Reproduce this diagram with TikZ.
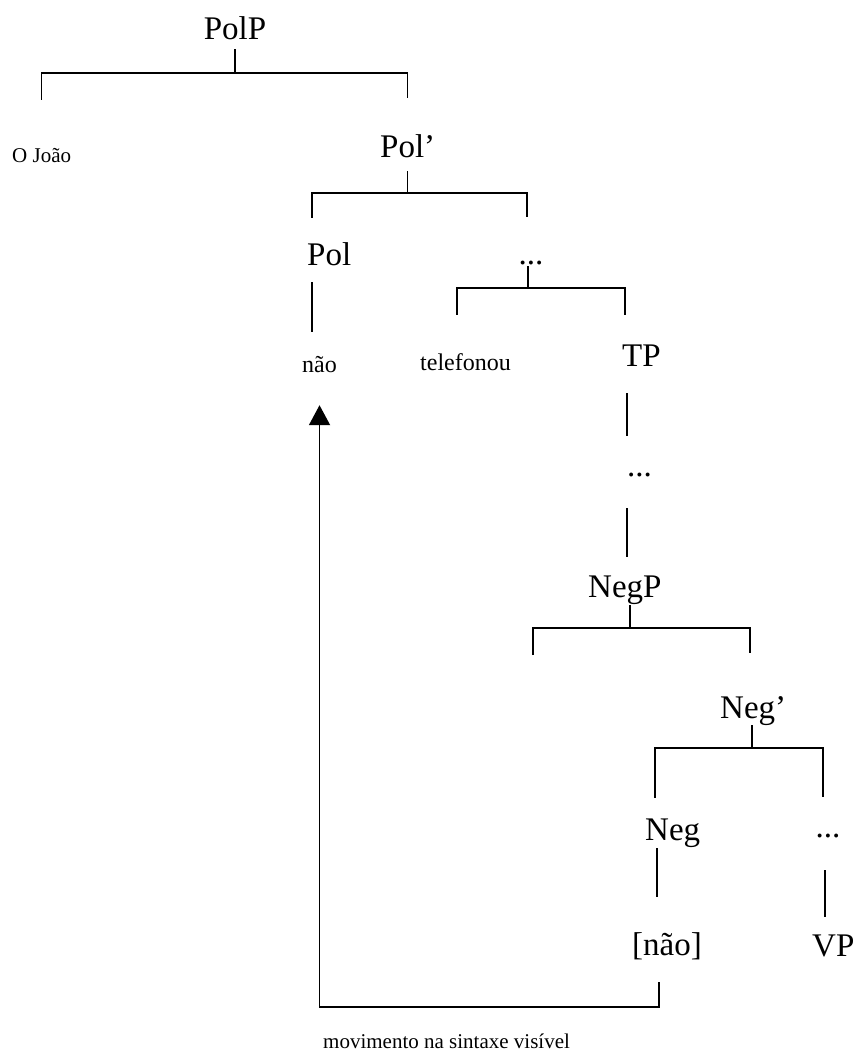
\documentclass[tikz,border=0pt]{standalone}
\usepackage{fontspec}
\setmainfont{Liberation Serif}
\usepackage{tikz}
\usetikzlibrary{arrows.meta,calc}

\begin{document}
\begin{tikzpicture}[
    x=1pt, y=-1pt,
    cat/.style={font=\fontsize{33}{38}\selectfont, inner sep=0pt, text height=23pt, text depth=0pt},
    word/.style={font=\fontsize{21}{24}\selectfont, inner sep=0pt, text height=15pt, text depth=0pt},
    branch/.style={line width=1.5pt},
    move/.style={line width=1.8pt, -{Triangle[length=20pt,width=21pt]}}
]
\useasboundingbox (0,0) rectangle (859,1053);

% Labels
\node[cat, anchor=base] (polp) at (235,39) {PolP};
\node[word, anchor=base west] (joao) at (12,162) {O João};
\node[cat, anchor=base west] (polbar) at (380,157) {Pol’};
\node[cat, anchor=base west] (pol) at (307,265) {Pol};
\node[cat, anchor=base] (dotsa) at (531,264) {...};
\node[word, font=\fontsize{24}{28}\selectfont, anchor=base west] (nao) at (302,372) {não};
\node[word, font=\fontsize{24}{28}\selectfont, anchor=base west] (telefonou) at (420,370) {telefonou};
\node[cat, anchor=base west] (tp) at (622,366) {TP};
\node[cat, anchor=base west] (dotsb) at (627,476) {...};
\node[cat, anchor=base west] (negp) at (588,597) {NegP};
\node[cat, anchor=base west] (negbar) at (720,718) {Neg’};
\node[cat, anchor=base west] (neg) at (645,840) {Neg};
\node[cat, anchor=base] (dotsc) at (828,837) {...};
\node[cat, anchor=base west] (naoneg) at (632,955) {[não]};
\node[cat, anchor=base west] (vp) at (812,956) {VP};
\node[word, anchor=base west] (mov) at (323,1048) {movimento na sintaxe visível};
\coordinate (negspec) at (533,655);

% PolP
\draw[branch] (polp.south) ++(0,10) -- ++(0,24);
\draw[branch, shorten <=47pt, shorten >=36pt] (joao.north) |- ([yshift=-34pt]polp.south) -| (polbar.north);

% Pol'
\draw[branch] (polbar.south) ++(0,14) -- ++(0,22);
\draw[branch, shorten <=24pt, shorten >=24pt] ([xshift=5pt]pol.north west) |- ([yshift=-36pt]polbar.south) -| ([xshift=-4pt]dotsa.north);
\draw[branch, shorten <=17pt, shorten >=25pt] ([xshift=5pt]pol.south west) -- ([xshift=5pt]pol.south west |- nao.north);

% ...
\draw[branch] ([xshift=-3pt]dotsa.south) ++(0,2) -- ++(0,22);
\draw[branch, shorten <=40pt, shorten >=28pt] ([xshift=37pt]telefonou.north west) |- ([shift={(-3pt,-24pt)}]dotsa.south) -| ([xshift=3pt]tp.north west);

% TP
\draw[branch, shorten <=27pt, shorten >=17pt] ([xshift=5pt]tp.south west) -- (dotsb.north west);
\draw[branch, shorten <=32pt, shorten >=17pt] (dotsb.south west) -- (dotsb.south west |- negp.north);

% NegP
\draw[branch] ([xshift=5pt]negp.south) ++(0,8) -- ++(0,23);
\draw[branch, shorten >=42pt] (negspec) |- ([shift={(5pt,-31pt)}]negp.south) -| ([xshift=30pt]negbar.north west);

% Neg'
\draw[branch] ([xshift=32pt]negbar.south west) ++(0,7) -- ++(0,23);
\draw[branch, shorten <=19pt, shorten >=17pt] ([xshift=10pt]neg.north west) |- ([shift={(32pt,-30pt)}]negbar.south west) -| ([xshift=-5pt]dotsc.north);
\draw[branch, shorten <=8pt, shorten >=35pt] ([xshift=12pt]neg.south west) -- ([xshift=12pt]neg.south west |- naoneg.north);
\draw[branch, shorten <=33pt, shorten >=16pt] ([xshift=-3pt]dotsc.south) -- ([xshift=-3pt]dotsc.south |- vp.north);

% Movement
\draw[move, shorten >=33pt] ([xshift=27pt]naoneg.south west) ++(0,27) -- ++(0,25) -| (nao.south);

\end{tikzpicture}
\end{document}
